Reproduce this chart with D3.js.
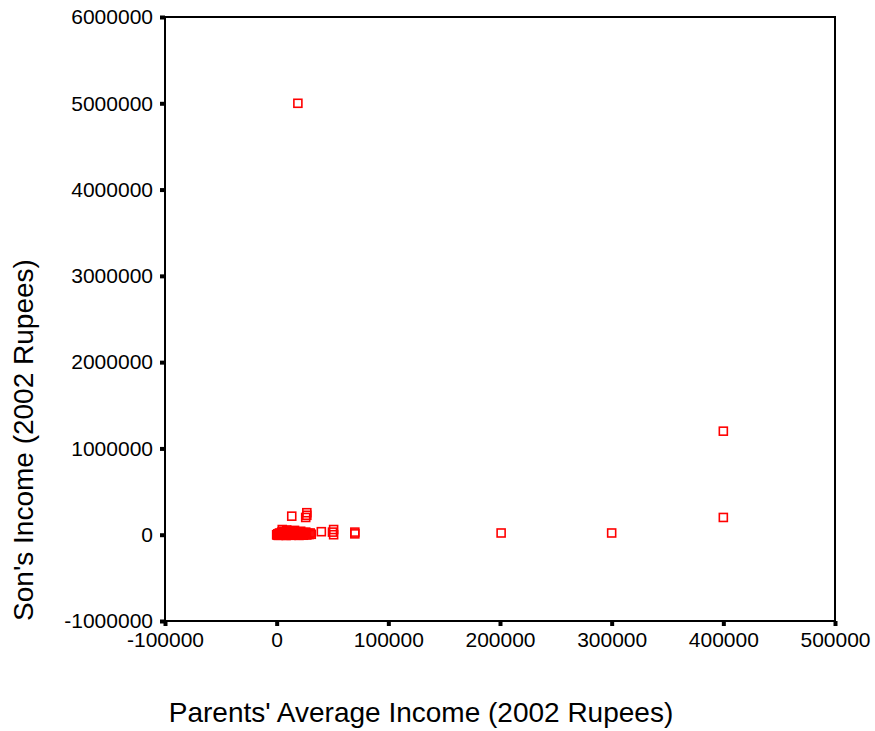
<!DOCTYPE html>
<html>
<head>
<meta charset="utf-8">
<script src="https://cdn.jsdelivr.net/npm/d3@7/dist/d3.min.js"></script>
<style>
  html, body { margin: 0; padding: 0; background: #fff; }
  svg { display: block; font-family: Arial, "Liberation Sans", sans-serif; }
</style>
</head>
<body>
<svg id="chart" width="875" height="731"></svg>
<script>
// Parents' average income (x) and son's income (y), 2002 rupees
const parentIncome = [
  0, 500, 1000, 1500, 2000, 2500, 3000, 3500, 4000, 4500, 5000, 5500, 6000, 6500,
  7000, 7500, 8000, 8500, 9000, 9500, 10000, 10500, 11000, 11500, 12000, 12500,
  13000, 13500, 14000, 14500, 15000, 15500, 16000, 16500, 17000, 17500, 18000,
  18500, 19000, 19500, 20000, 20500, 21000, 21500, 22000, 22500, 23000, 23500,
  24000, 25000, 26000, 27000, 28000, 29000, 30000, 31000, 5000, 9000,
  13500, 27000, 27000, 26000, 40000, 51000, 51000, 50000, 70000, 70000,
  19000, 201000, 300000, 400000, 400000
];
const sonIncome = [
  0, -5000, 10000, -8000, 5000, 20000, 0, -6000, 15000, 30000, 2000, -4000, 40000, 12000,
  -2000, 25000, 6000, -9000, 18000, 3000, 45000, -3000, 8000, 22000, 0, 35000,
  -7000, 14000, 4000, 28000, -1000, 10000, 50000, -5000, 20000, 7000, -4000,
  32000, 1000, 16000, -8000, 26000, 5000, 40000, -2000, 12000, 0, 24000,
  -6000, 8000, 30000, -3000, 15000, 2000, 20000, 5000, 60000, 55000,
  215000, 255000, 225000, 200000, 35000, 60000, 0, 30000, 30000, 10000,
  5000000, 20000, 20000, 1200000, 200000
];

const xTicks = [-100000, 0, 100000, 200000, 300000, 400000, 500000];
const yTicks = [-1000000, 0, 1000000, 2000000, 3000000, 4000000, 5000000, 6000000];

const xTitle = "Parents' Average Income (2002 Rupees)";
const yTitle = "Son's Income (2002 Rupees)";

const points = parentIncome.map((x, i) => ({ x, y: sonIncome[i] }));

const plot = { left: 165, right: 835, top: 17, bottom: 621 };

const svg = d3.select("#chart");

const x = d3.scaleLinear().domain([-100000, 500000]).range([plot.left, plot.right]);
const y = d3.scaleLinear().domain([-1000000, 6000000]).range([plot.bottom, plot.top]);

// Frame around the plotting area
svg.append("rect")
  .attr("x", plot.left).attr("y", plot.top)
  .attr("width", plot.right - plot.left).attr("height", plot.bottom - plot.top)
  .attr("fill", "none").attr("stroke", "#000").attr("stroke-width", 2);

// Bottom axis: short heavy ticks below the frame
const xAxis = svg.append("g")
  .attr("transform", `translate(0,${plot.bottom})`)
  .call(d3.axisBottom(x).tickValues(xTicks).tickFormat(d => String(d))
    .tickSizeInner(5).tickSizeOuter(0).tickPadding(6));
xAxis.select(".domain").remove();
xAxis.selectAll(".tick line").attr("stroke", "#000").attr("stroke-width", 4);
xAxis.selectAll(".tick text").attr("font-size", 21).attr("fill", "#000")
  .attr("font-family", "Arial, 'Liberation Sans', sans-serif");

// Left axis
const yAxis = svg.append("g")
  .attr("transform", `translate(${plot.left},0)`)
  .call(d3.axisLeft(y).tickValues(yTicks).tickFormat(d => String(d))
    .tickSizeInner(5).tickSizeOuter(0).tickPadding(7));
yAxis.select(".domain").remove();
yAxis.selectAll(".tick line").attr("stroke", "#000").attr("stroke-width", 4);
yAxis.selectAll(".tick text").attr("font-size", 21).attr("fill", "#000")
  .attr("font-family", "Arial, 'Liberation Sans', sans-serif");

// Hollow square markers
const s = 8;
svg.append("g").selectAll("rect")
  .data(points)
  .join("rect")
  .attr("x", d => x(d.x) - s / 2)
  .attr("y", d => y(d.y) - s / 2)
  .attr("width", s).attr("height", s)
  .attr("fill", "none")
  .attr("stroke", "#ff0000")
  .attr("stroke-width", 1.6);

// Axis titles
svg.append("text")
  .attr("x", 421).attr("y", 722)
  .attr("text-anchor", "middle")
  .attr("font-size", 28)
  .attr("fill", "#000")
  .text(xTitle);

svg.append("text")
  .attr("transform", "translate(33,440) rotate(-90)")
  .attr("text-anchor", "middle")
  .attr("font-size", 28)
  .attr("fill", "#000")
  .text(yTitle);
</script>
</body>
</html>
